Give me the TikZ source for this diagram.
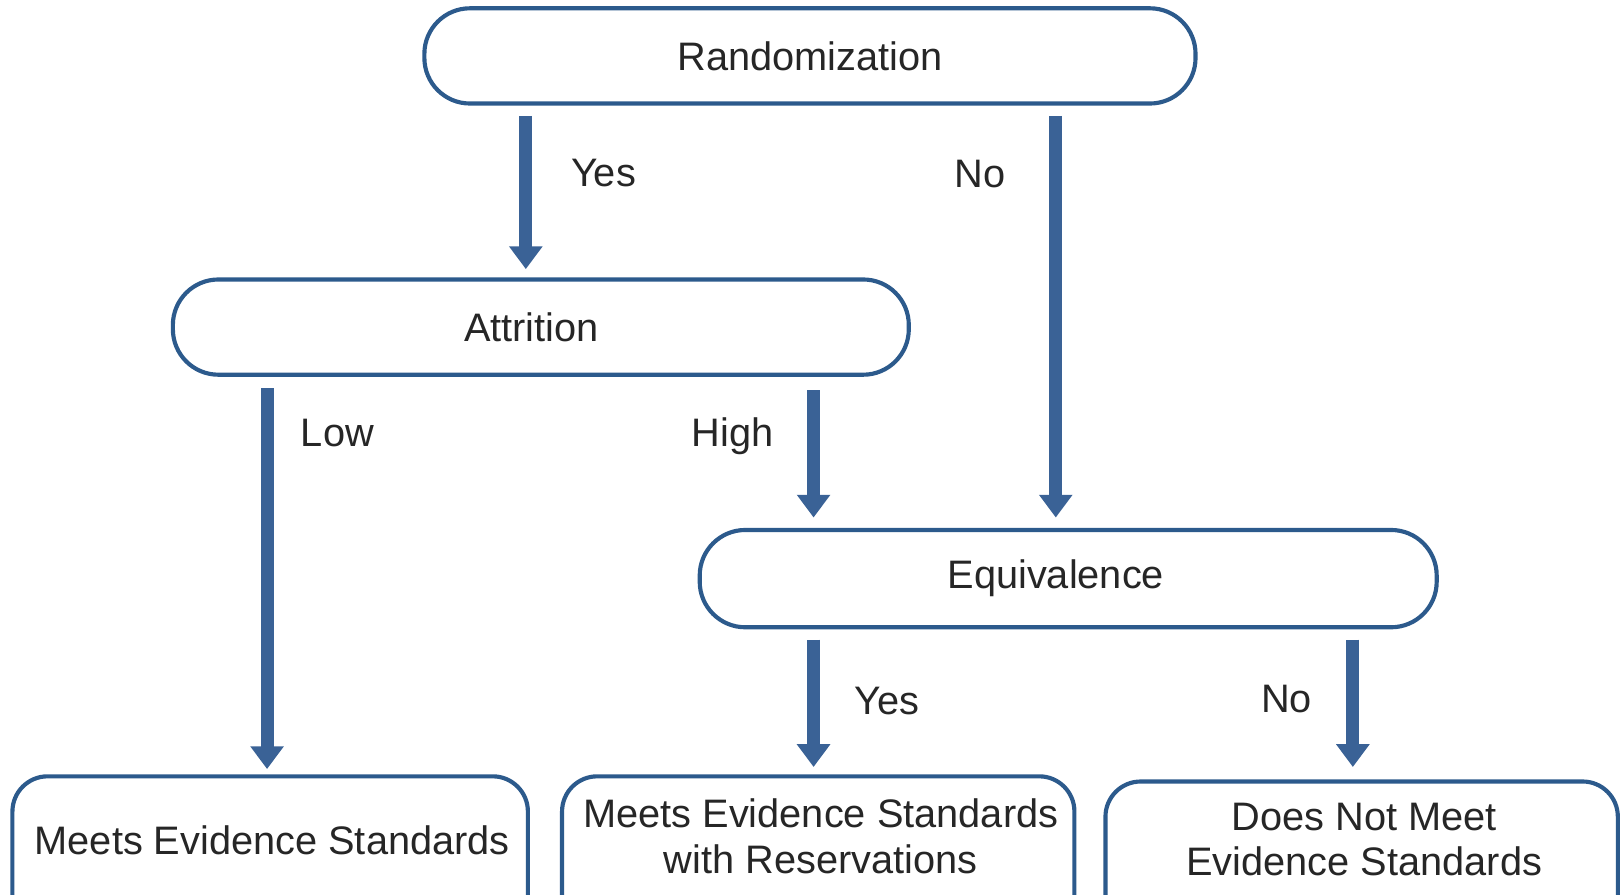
\documentclass[tikz,border=0pt]{standalone}
\usepackage{fontspec}
\setmainfont{Liberation Sans}
\usetikzlibrary{arrows.meta}
\definecolor{boxblue}{RGB}{44,90,140}
\definecolor{arrblue}{RGB}{58,98,150}
\begin{document}
\begin{tikzpicture}[x=0.5pt,y=-0.5pt,
 box/.style={draw=boxblue,line width=2pt,rounded corners=22pt,fill=white,inner sep=0pt},
 lbl/.style={font=\fontsize{19.2}{22}\selectfont,inner sep=0pt,align=center,text=black!85},
 arr/.style={draw=arrblue,line width=6.3pt,-{Triangle[width=15.5pt,length=11pt]}}]
\useasboundingbox (0,0) rectangle (1568,864);
% decision boxes
\node[box,lbl,minimum width=372.5pt,minimum height=46pt] (rand) at (782.5,54) {Randomization};
\node[box,lbl,minimum width=355.5pt,minimum height=46pt] (attr) at (522.5,316) {Attrition\hspace*{9pt}};
\node[box,lbl,minimum width=356pt,minimum height=47pt] (equiv) at (1032,559) {Equivalence\hspace*{12pt}};
% outcome boxes (cut by the lower edge)
\node[box,rounded corners=17pt,minimum width=249pt,minimum height=75pt] (m1) at (261,825) {};
\node[box,rounded corners=17pt,minimum width=247.5pt,minimum height=75pt] (m2) at (790.5,825) {};
\node[box,rounded corners=17pt,minimum width=247.5pt,minimum height=75pt] (m3) at (1315.5,830) {};
\node[lbl] (m1t) at (263,812) {Meets Evidence Standards};
\node[lbl] (m2t) at (793,808) {Meets Evidence Standards\\with Reservations};
\node[lbl] (m3t) at (1318,811) {Does Not Meet\\Evidence Standards};
% arrow columns
\coordinate (xa) at (508,0);
\coordinate (xb) at (1020,0);
\coordinate (xc) at (258,0);
\coordinate (xd) at (786,0);
\coordinate (xe) at (1307,0);
\draw[arr,shorten <=5pt,shorten >=4pt] (rand.south -| xa) -- (attr.north -| xa);
\draw[arr,shorten <=5pt,shorten >=5pt] (rand.south -| xb) -- (equiv.north -| xb);
\draw[arr,shorten <=5.5pt,shorten >=2.5pt] (attr.south -| xc) -- (m1.north -| xc);
\draw[arr,shorten <=6.5pt,shorten >=5pt] (attr.south -| xd) -- (equiv.north -| xd);
\draw[arr,shorten <=5pt,shorten >=3.5pt] (equiv.south -| xd) -- (m2.north -| xd);
\draw[arr,shorten <=5pt,shorten >=6pt] (equiv.south -| xe) -- (m3.north -| xe);
% branch labels
\node[lbl] (l1) at (583,167) {Yes};
\node[lbl] (l2) at (947,168) {No};
\node[lbl] (l3) at (326,418) {Low};
\node[lbl] (l4) at (708,421) {High};
\node[lbl] (l5) at (857,677) {Yes};
\node[lbl] (l6) at (1243,675) {No};
\end{tikzpicture}
\end{document}
